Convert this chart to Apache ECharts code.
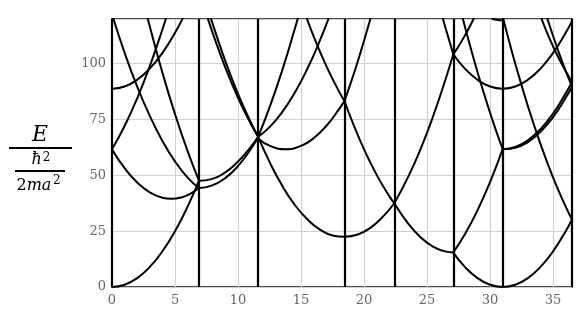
<!DOCTYPE html>
<html><head><meta charset="utf-8">
<script src="https://cdn.jsdelivr.net/npm/echarts@6/dist/echarts.min.js"></script>
<style>html,body{margin:0;padding:0;background:#fff}#c{width:587px;height:319px}</style>
</head><body><div id="c"></div>
<script>
// axis ticks
const xTicks = [0, 5, 10, 15, 20, 25, 30, 35];
const yTicks = [0, 25, 50, 75, 100];
// high-symmetry path boundaries (vertical lines)
const boundaries = [0, 6.9, 11.6, 18.45, 22.4, 27.08, 31.0, 36.5];

// segment 1 [0, 6.9]
const s1a = [[0,0],[1,1],[2,4],[3,9],[4,16],[5,25],[6,36],[6.9,47.6]];
const s1b = [[0,61.7],[1,53.2],[2,46.8],[3,42.4],[4,40.0],[4.7,39.5],[5.5,40.1],[6.2,41.7],[6.9,44.3]];
const s1c = [[0,61.7],[1,72.1],[2,84.5],[3,98.9],[4,115.3],[4.5,124.3]];
const s1d = [[0,88.8],[1,89.8],[2,92.8],[3,97.8],[4,104.8],[5,113.8],[5.7,121.3]];
const s1e = [[0,122.1],[1,104.9],[2,89.7],[3,76.6],[4,65.4],[5,56.2],[6,49.0],[6.9,44.3]];
const s1f = [[2.7,123.2],[3,116.6],[4,96.0],[5,77.4],[6,60.8],[6.9,47.6]];
// segment 2 [6.9, 11.6]
const s2a = [[6.9,44.3],[7.9,45.4],[8.9,48.4],[9.9,53.5],[10.9,60.8],[11.6,67.2]];
const s2b = [[6.9,47.6],[7.9,48.3],[8.9,51.0],[9.9,55.6],[10.9,62.0],[11.6,67.3]];
const s2c = [[7.6,120.3],[8,113.6],[9,98.1],[10,84.7],[11,73.2],[11.6,67.3]];
const s2d = [[7.8,121.1],[8,117.6],[9,101.0],[10,86.5],[11,73.9],[11.6,67.3]];
// segment 3 [11.6, 18.45]
const s3a = [[11.6,67.3],[12.5,80.4],[13.5,96.9],[14.5,115.5],[14.8,121.4]];
const s3b = [[11.6,67.3],[12.5,71.6],[13.5,78.3],[14.5,87.0],[15.5,97.7],[16.5,110.4],[17.2,120.5]];
const s3c = [[15.4,121.2],[16,112.2],[17,99.0],[18,87.7],[18.45,83.3]];
const s3d = [[11.6,66.5],[12.5,63.3],[13.78,61.7],[15,63.2],[16,66.6],[17,72.1],[18,79.5],[18.45,83.4]];
const s3e = [[11.6,67.2],[12.5,56.0],[13.5,45.4],[14.5,36.8],[15.5,30.3],[16.5,25.7],[17.5,23.1],[18.45,22.5]];
// segment 4 [18.45, 22.4]
const s4a = [[18.45,83.3],[19,92.3],[19.5,101.0],[20,110.3],[20.5,120.0],[20.6,122.0]];
const s4b = [[18.45,83.3],[19,75.0],[20,61.6],[21,50.2],[22,40.7],[22.4,37.5]];
const s4c = [[18.45,22.5],[19.5,23.5],[20.5,26.5],[21.5,31.5],[22.4,37.5]];
// segment 5 [22.4, 27.08]
const s5a = [[22.4,37.5],[23.5,49.3],[24.5,62.0],[25.5,76.8],[26.5,93.6],[27.08,104.2]];
const s5b = [[22.4,37.5],[23.5,28.4],[24.5,22.2],[25.5,18.0],[26.5,15.85],[27.08,15.5]];
const s5c = [[26.2,121.2],[26.5,115.3],[26.8,109.6],[27.08,104.2]];
// segment 6 [27.08, 31.0]
const s6a = [[27.08,15.4],[28,9],[29,4],[30,1],[31,0]];
const s6b = [[27.08,15.5],[28,23.6],[29,34.3],[30,47.0],[31,61.7]];
const s6c = [[27.8,120.9],[28,116.6],[28.5,106.2],[29,96.3],[29.5,86.9],[30,78.0],[30.5,69.6],[31,61.7]];
const s6d = [[27.08,104.2],[28,97.8],[29,92.8],[30,89.8],[31,88.8]];
const s6e = [[27.08,104.2],[27.5,107.8],[28,112.6],[28.5,117.9],[28.8,121.3]];
const s6f = [[30.1,120.2],[30.5,119.65],[31,119.4]];
// segment 7 [31.0, 36.5]
const s7a = [[31,0],[32,1],[33,4],[34,9],[35,16],[36,25],[36.5,30.25]];
const s7b = [[31,121],[31.5,110.25],[32,100],[33,81],[34,64],[35,49],[36,36],[36.5,30.25]];
const s7c = [[31,88.8],[32,89.8],[33,92.8],[34,97.8],[35,104.8],[36,113.8],[36.5,119.05]];
const s7d = [[31,61.7],[32,62.7],[33,65.7],[34,70.7],[35,77.7],[36,86.7],[36.5,91.95]];
const s7e = [[31,61.7],[32,62.3],[33,64.9],[34,69.5],[35,76.1],[36,84.7],[36.5,89.75]];
const s7f = [[34.05,120.6],[34.5,114.1],[35,107.7],[35.5,101.9],[36,96.6],[36.5,91.8]];
const s7g = [[34.5,120.9],[35,112.4],[35.5,104.3],[36,96.8],[36.5,89.8]];

const curves = [s1a,s1b,s1c,s1d,s1e,s1f,s2a,s2b,s2c,s2d,s3a,s3b,s3c,s3d,s3e,
  s4a,s4b,s4c,s5a,s5b,s5c,s6a,s6b,s6c,s6d,s6e,s6f,s7a,s7b,s7c,s7d,s7e,s7f,s7g];

const chart = echarts.init(document.getElementById('c'), null, {renderer:'canvas'});
const labelStyle = {color:'#666', fontFamily:'DejaVu Serif', fontSize:13};
const series = curves.map(d => ({
  type:'line', data:d, smooth:true, showSymbol:false, symbol:'none', silent:true,
  lineStyle:{color:'#000', width:2}, clip:true, z:3
}));
series.push({
  type:'line', data:[], silent:true, z:4,
  markLine:{symbol:['none','none'], silent:true, label:{show:false}, animation:false,
    lineStyle:{color:'#000', width:2.2, type:'solid'},
    data: boundaries.map(v => ({xAxis:v}))}
});
const font = 'DejaVu Serif';
chart.setOption({
  animation:false,
  grid:{left:112, right:15, top:19, bottom:32, show:true, borderColor:'#4d4d4d', borderWidth:2, backgroundColor:'transparent'},
  xAxis:{type:'value', min:0, max:36.5, interval:5,
    axisLine:{show:false}, axisTick:{show:false},
    splitLine:{show:true, lineStyle:{color:'#d0d0d0', width:1}},
    axisLabel:Object.assign({margin:7, showMaxLabel:false,
      formatter:v => xTicks.includes(v) ? String(v) : ''}, labelStyle)},
  yAxis:{type:'value', min:0, max:120, interval:25,
    axisLine:{show:false}, axisTick:{show:false},
    splitLine:{show:true, lineStyle:{color:'#d0d0d0', width:1}},
    axisLabel:Object.assign({margin:6, showMaxLabel:false,
      formatter:v => yTicks.includes(v) ? String(v) : ''}, labelStyle)},
  series: series,
  graphic:[
    {type:'text', style:{text:'E', x:40, y:135.5, font:'italic 22px "'+font+'"', fill:'#000', textAlign:'center', textVerticalAlign:'middle'}},
    {type:'line', shape:{x1:9, y1:148, x2:72, y2:148}, style:{stroke:'#000', lineWidth:2}},
    {type:'text', style:{text:'ħ', x:31.5, y:160, font:'italic 16px "'+font+'"', fill:'#000', textAlign:'left', textVerticalAlign:'middle'}},
    {type:'text', style:{text:'2', x:42.7, y:158, font:'12px "'+font+'"', fill:'#000', textAlign:'left', textVerticalAlign:'middle'}},
    {type:'line', shape:{x1:15, y1:171, x2:65, y2:171}, style:{stroke:'#000', lineWidth:2}},
    {type:'text', style:{text:'2', x:16.5, y:186, font:'16px "'+font+'"', fill:'#000', textAlign:'left', textVerticalAlign:'middle'}},
    {type:'text', style:{text:'ma', x:26.7, y:186, font:'italic 16px "'+font+'"', fill:'#000', textAlign:'left', textVerticalAlign:'middle'}},
    {type:'text', style:{text:'2', x:53, y:180.5, font:'12px "'+font+'"', fill:'#000', textAlign:'left', textVerticalAlign:'middle'}}
  ]
});
</script></body></html>
